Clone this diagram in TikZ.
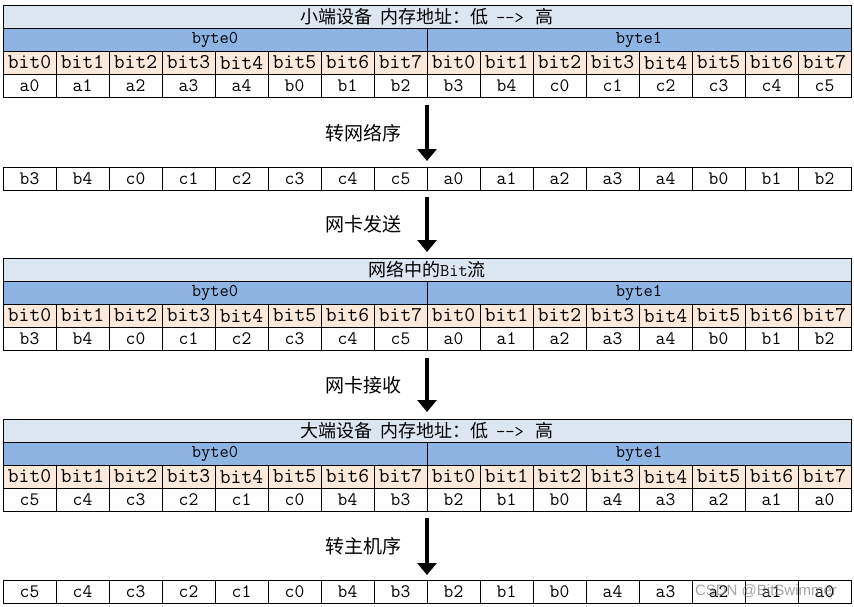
\documentclass[tikz,border=0pt]{standalone}
\usepackage{fontspec}
\newfontfamily\cjk{Noto Sans CJK SC}
\newfontfamily\wmfont{Liberation Sans}
\usetikzlibrary{arrows.meta}
\definecolor{titleblue}{RGB}{220,230,241}
\definecolor{byteblue}{RGB}{141,180,226}
\definecolor{bitpeach}{RGB}{253,233,217}
% header rows of one memory table: name, top, title
\newcommand{\bittable}[3]{%
  \node[titlecell] (#1-t) at (3,#2) {#3};
  \node[bytecell] (#1-b0) at (3,#2+23) {byte0};
  \node[bytecell] (#1-b1) at (427,#2+23) {byte1};
  \foreach \i in {0,...,15}{
    \pgfmathtruncatemacro{\k}{mod(\i,8)}
    \node[bitcell] (#1-k\i) at ({3+53*\i},#2+46) {bit\k};}
}
% one row of values: name, top, values
\newcommand{\valrow}[3]{%
  \foreach \v [count=\i from 0] in {#3}
    \node[valcell] (#1-v\i) at ({3+53*\i},#2) {\v};
}
\begin{document}
\begin{tikzpicture}[x=1pt,y=-1pt,
cell/.style={draw,line width=0.8pt,anchor=north west,inner sep=0pt,outer sep=0pt,minimum height=23pt},
titlecell/.style={cell,fill=titleblue,minimum width=848pt,font=\ttfamily\fontsize{18}{20}\selectfont},
bytecell/.style={cell,fill=byteblue,minimum width=424pt,font=\ttfamily\fontsize{18}{20}\selectfont},
bitcell/.style={cell,fill=bitpeach,minimum width=53pt,font=\ttfamily\fontsize{21}{22}\selectfont},
valcell/.style={cell,fill=white,minimum width=53pt,font=\ttfamily\fontsize{19}{20}\selectfont},
steplabel/.style={font=\cjk\fontsize{19}{20}\selectfont},
bigarrow/.style={-{Triangle[width=19pt,length=12pt]},line width=3.5pt}]
\fill[white] (0,0) rectangle (854,606);
\useasboundingbox (0,0) rectangle (854,606);
% little endian host
\bittable{t1}{5}{{\cjk 小端设备\hspace{8pt}内存地址：低}\hspace{8pt}-{}->\hspace{12pt}{\cjk 高}}
\valrow{t1}{74}{a0,a1,a2,a3,a4,b0,b1,b2,b3,b4,c0,c1,c2,c3,c4,c5}
% network order
\valrow{r2}{167}{b3,b4,c0,c1,c2,c3,c4,c5,a0,a1,a2,a3,a4,b0,b1,b2}
% on the wire
\bittable{t2}{258}{{\cjk 网络中的}Bit{\cjk 流}}
\valrow{t2}{327}{b3,b4,c0,c1,c2,c3,c4,c5,a0,a1,a2,a3,a4,b0,b1,b2}
% big endian host
\bittable{t3}{419}{{\cjk 大端设备\hspace{8pt}内存地址：低}\hspace{8pt}-{}->\hspace{12pt}{\cjk 高}}
\valrow{t3}{488}{c5,c4,c3,c2,c1,c0,b4,b3,b2,b1,b0,a4,a3,a2,a1,a0}
% host order
\valrow{r5}{580}{c5,c4,c3,c2,c1,c0,b4,b3,b2,b1,b0,a4,a3,a2,a1,a0}
\draw[bigarrow] ([yshift=-8pt]t1-v7.south east) -- node[steplabel,left=20pt] (lab1) {转网络序} ([yshift=6pt]r2-v7.north east);
\draw[bigarrow] ([yshift=-7pt]r2-v7.south east) -- node[steplabel,left=20pt] (lab2) {网卡发送} ([yshift=6pt]t2-t.north);
\draw[bigarrow] ([yshift=-8pt]t2-v7.south east) -- node[steplabel,left=20pt] (lab3) {网卡接收} ([yshift=7pt]t3-t.north);
\draw[bigarrow] ([yshift=-7pt]t3-v7.south east) -- node[steplabel,left=20pt] (lab4) {转主机序} ([yshift=5pt]r5-v7.north east);
\node[font=\wmfont\fontsize{15}{16}\selectfont,text=gray,opacity=0.7] (wm) at (766,591) {CSDN @BitSwimmer};
\end{tikzpicture}
\end{document}
